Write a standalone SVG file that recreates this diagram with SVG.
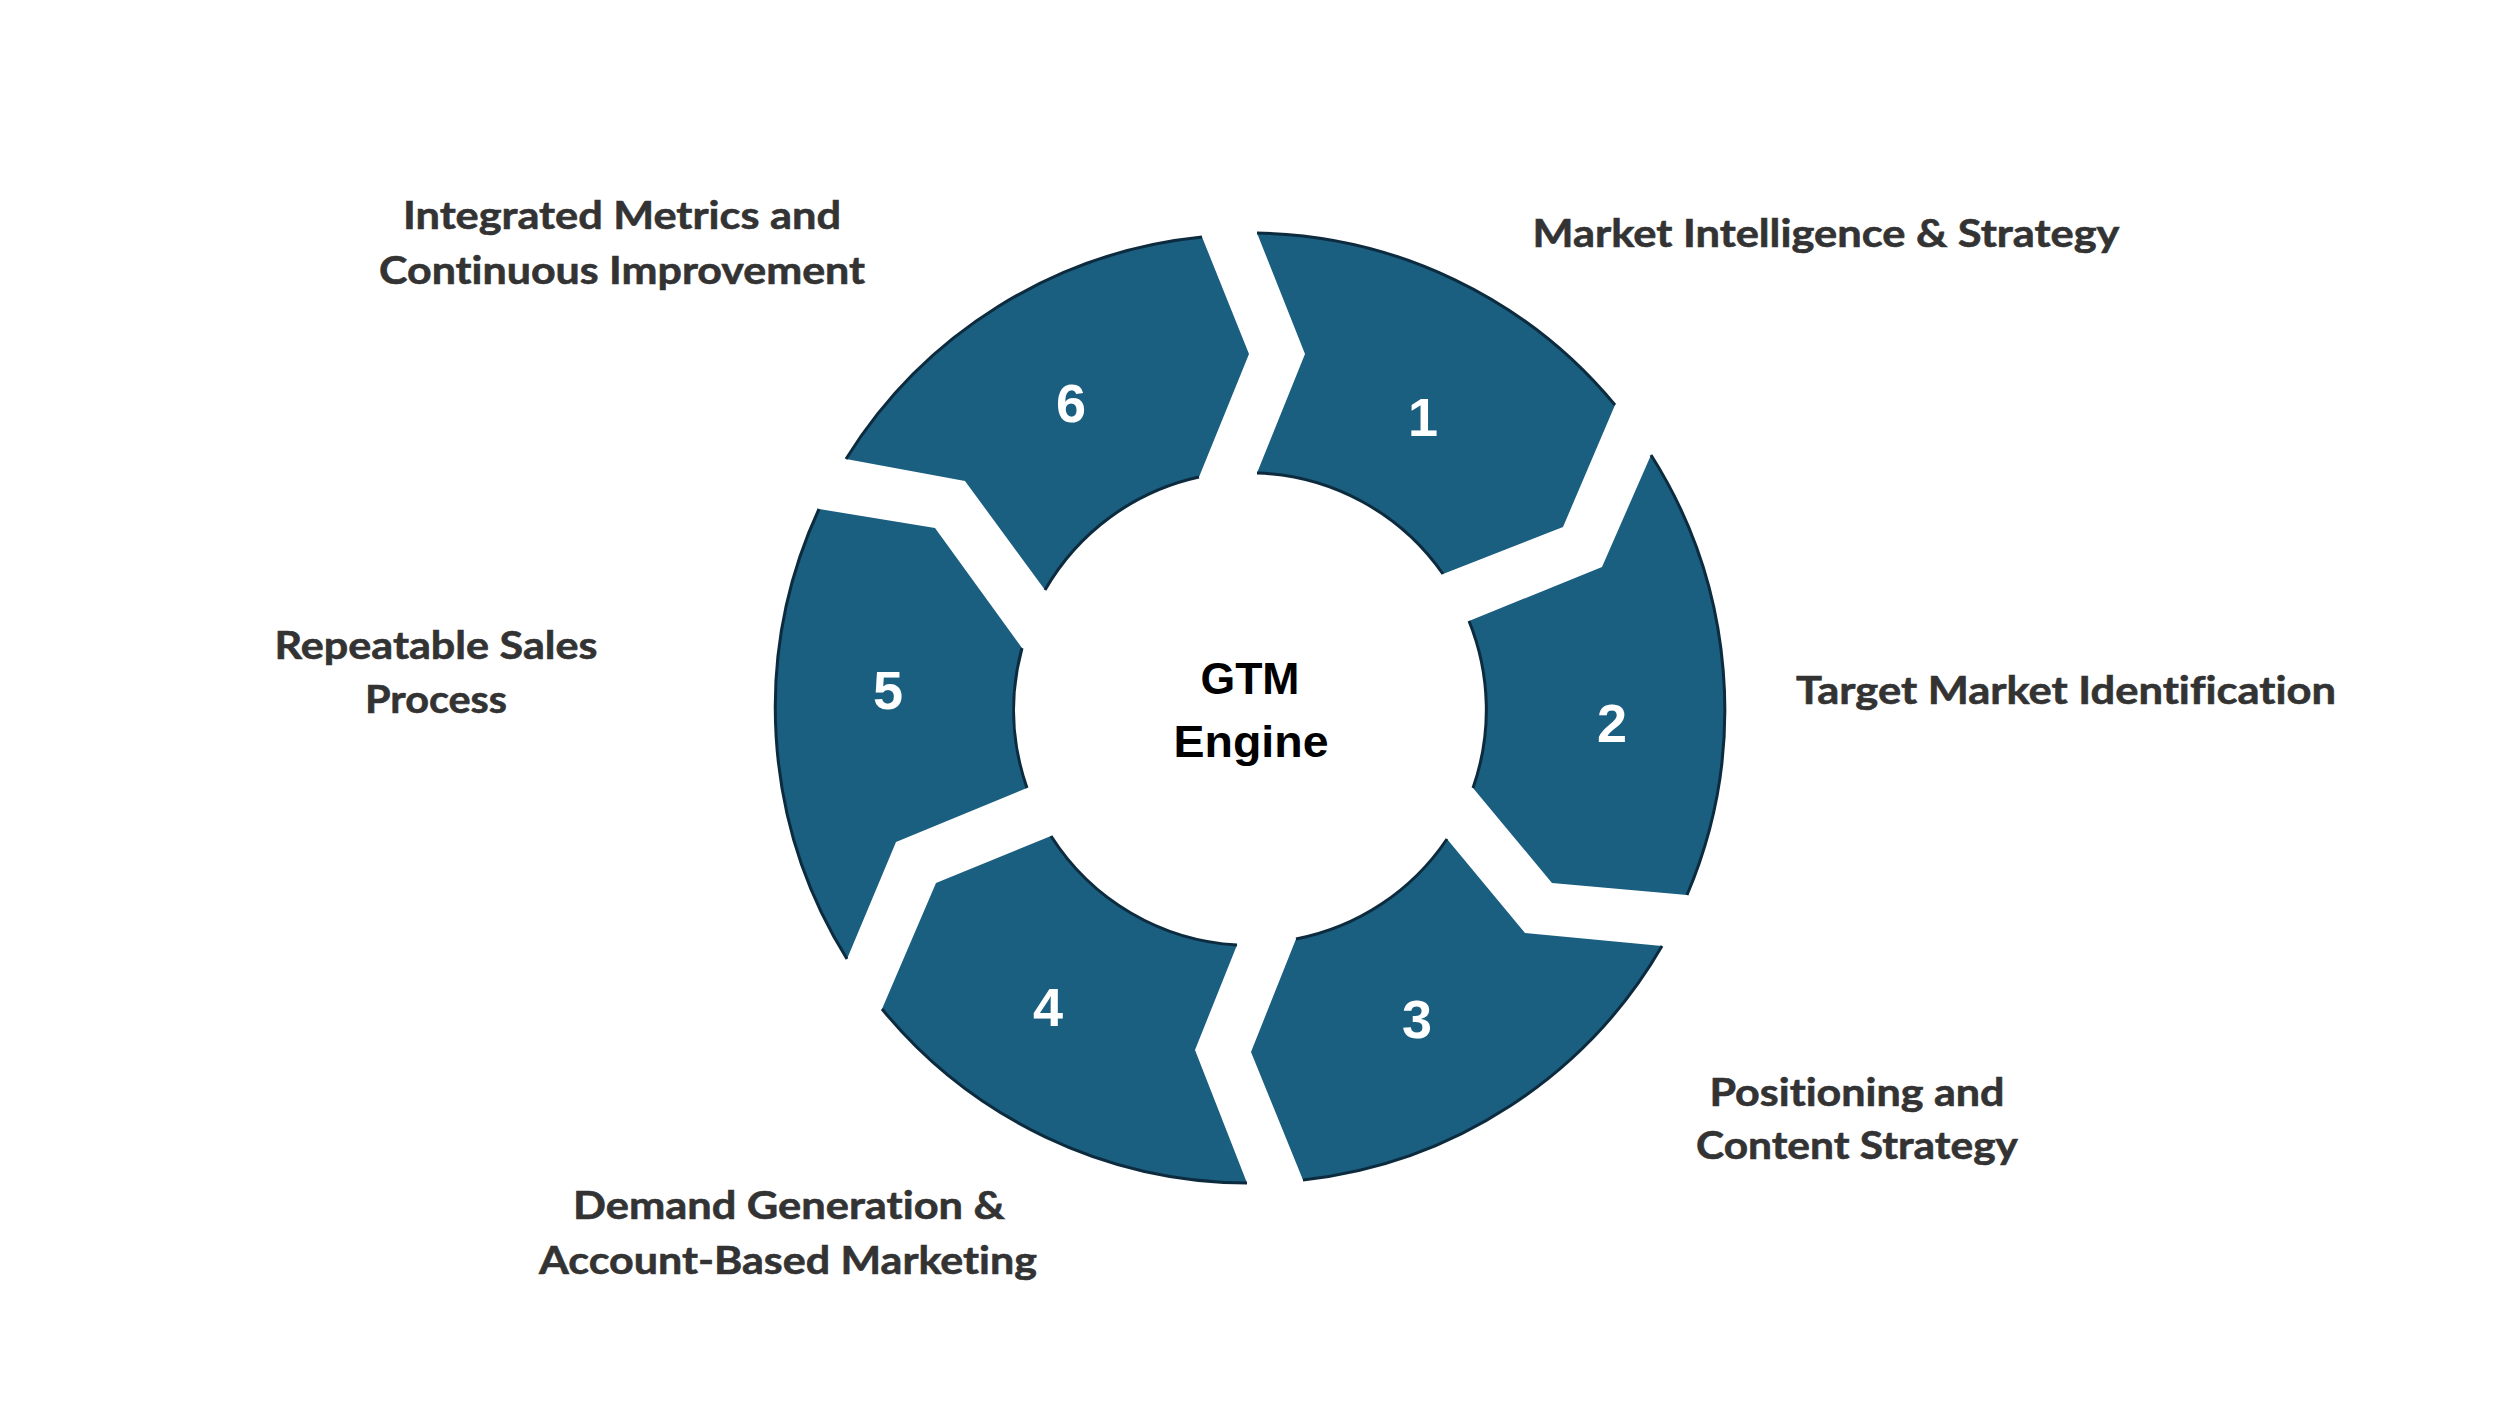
<svg xmlns="http://www.w3.org/2000/svg" width="2500" height="1406" viewBox="0 0 2500 1406">
<style>
.seg{fill:#1a5e80;stroke:none}
.rim{fill:none;stroke:#0d2b3e;stroke-width:3}
.num{font-family:"Liberation Sans",Arial,sans-serif;font-weight:700;font-size:54px;fill:#ffffff;text-anchor:middle}
.lbl{font-family:Lato,"Open Sans",sans-serif;font-weight:700;font-size:39px;fill:#333333;text-anchor:middle;font-variant-ligatures:no-common-ligatures no-discretionary-ligatures;stroke:#333333;stroke-width:0.6}
.ctr{font-family:"Liberation Sans",Arial,sans-serif;font-weight:700;font-size:44px;fill:#000000;text-anchor:middle}
</style>
<rect width="2500" height="1406" fill="#ffffff"/>
<g id="ring">
<g id="node1">
<path class="seg" d="M1257,233 A475,475 0 0 1 1615,405 L1563,527 L1443,574 A236,236 0 0 0 1257,473 L1305,354 Z"/>
<path class="rim" d="M1257,233 A475,475 0 0 1 1615,405 M1443,574 A236,236 0 0 0 1257,473"/>
<text class="num" x="1423" y="436">1</text>
</g>
<g id="node2">
<path class="seg" d="M1651,455 A475,475 0 0 1 1687,895 L1552,883 L1473,788 A236,236 0 0 0 1469,621 L1602,567 Z"/>
<path class="rim" d="M1651,455 A475,475 0 0 1 1687,895 M1473,788 A236,236 0 0 0 1469,621"/>
<text class="num" x="1612" y="742">2</text>
</g>
<g id="node3">
<path class="seg" d="M1662,946 A475,475 0 0 1 1303,1180 L1251,1052 L1296,939 A236,236 0 0 0 1447,839 L1525,933 Z"/>
<path class="rim" d="M1662,946 A475,475 0 0 1 1303,1180 M1296,939 A236,236 0 0 0 1447,839"/>
<text class="num" x="1417" y="1038">3</text>
</g>
<g id="node4">
<path class="seg" d="M1247,1183 A475,475 0 0 1 882,1009 L936,883 L1051,836 A236,236 0 0 0 1237,945 L1195,1050 Z"/>
<path class="rim" d="M1247,1183 A475,475 0 0 1 882,1009 M1051,836 A236,236 0 0 0 1237,945"/>
<text class="num" x="1048" y="1026">4</text>
</g>
<g id="node5">
<path class="seg" d="M847,959 A475,475 0 0 1 819,509 L935,528 L1022,648 A236,236 0 0 0 1027,788 L896,842 Z"/>
<path class="rim" d="M847,959 A475,475 0 0 1 819,509 M1022,648 A236,236 0 0 0 1027,788"/>
<text class="num" x="888" y="709">5</text>
</g>
<g id="node6">
<path class="seg" d="M846,459 A475,475 0 0 1 1202,237 L1249,354 L1199,477 A236,236 0 0 0 1045,590 L965,481 Z"/>
<path class="rim" d="M846,459 A475,475 0 0 1 1202,237 M1199,477 A236,236 0 0 0 1045,590"/>
<text class="num" x="1071" y="422">6</text>
</g>
</g>
<g id="center">
<text class="ctr" x="1250" y="694" textLength="99" lengthAdjust="spacingAndGlyphs">GTM</text>
<text class="ctr" x="1251" y="757" textLength="155" lengthAdjust="spacingAndGlyphs">Engine</text>
</g>
<g id="label1"><text class="lbl" x="1826" y="247" textLength="587" lengthAdjust="spacingAndGlyphs">Market Intelligence &amp; Strategy</text></g>
<g id="label2"><text class="lbl" x="2066" y="704" textLength="540" lengthAdjust="spacingAndGlyphs">Target Market Identification</text></g>
<g id="label3">
<text class="lbl" x="1857" y="1106" textLength="295" lengthAdjust="spacingAndGlyphs">Positioning and</text>
<text class="lbl" x="1857" y="1159" textLength="322" lengthAdjust="spacingAndGlyphs">Content Strategy</text>
</g>
<g id="label4">
<text class="lbl" x="789" y="1219" textLength="432" lengthAdjust="spacingAndGlyphs">Demand Generation &amp;</text>
<text class="lbl" x="788" y="1274" textLength="498" lengthAdjust="spacingAndGlyphs">Account-Based Marketing</text>
</g>
<g id="label5">
<text class="lbl" x="436" y="659" textLength="323" lengthAdjust="spacingAndGlyphs">Repeatable Sales</text>
<text class="lbl" x="436" y="713" textLength="142" lengthAdjust="spacingAndGlyphs">Process</text>
</g>
<g id="label6">
<text class="lbl" x="622" y="229" textLength="438" lengthAdjust="spacingAndGlyphs">Integrated Metrics and</text>
<text class="lbl" x="622" y="284" textLength="486" lengthAdjust="spacingAndGlyphs">Continuous Improvement</text>
</g>
</svg>
